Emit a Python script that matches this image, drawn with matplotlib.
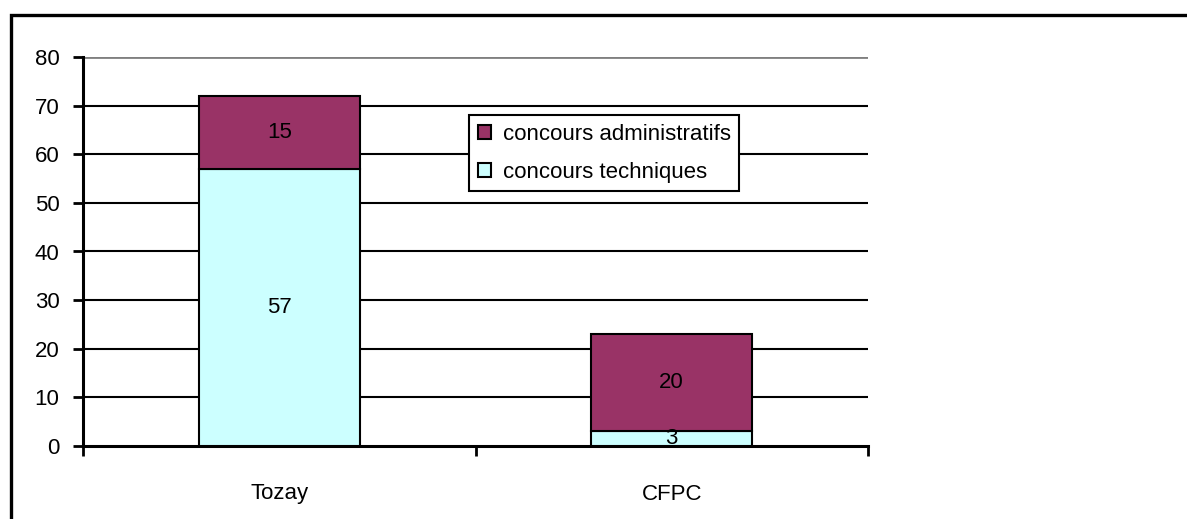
import matplotlib.pyplot as plt
from matplotlib.patches import Rectangle
import numpy as np

plt.rcParams['font.family'] = ['Liberation Sans', 'DejaVu Sans']

# data
sites = ['Tozay', 'CFPC']
techniques = [57, 3]
administratifs = [15, 20]

fig = plt.figure(figsize=(11.87, 5.19), dpi=100)

# outer frame (cut off at right and bottom like the original)
fig.add_artist(Rectangle((11 / 1187, -0.1), 1.2, (519 - 15) / 519 + 0.1,
                         transform=fig.transFigure, fill=False,
                         edgecolor='black', linewidth=2.4))

ax = fig.add_axes([83 / 1187, (519 - 446) / 519,
                   (868 - 83) / 1187, (446 - 57) / 519])

x = np.arange(len(sites))
w = 0.41
b1 = ax.bar(x, techniques, w, color='#CCFFFF', edgecolor='black',
            linewidth=1.5, label='concours techniques', zorder=3)
b2 = ax.bar(x, administratifs, w, bottom=techniques, color='#993366',
            edgecolor='black', linewidth=1.5,
            label='concours administratifs', zorder=3)

for i in range(len(sites)):
    ax.text(x[i], techniques[i] / 2, str(techniques[i]), ha='center',
            va='center', fontsize=16, zorder=4)
    ax.text(x[i], techniques[i] + administratifs[i] / 2,
            str(administratifs[i]), ha='center', va='center',
            fontsize=16, zorder=4)

ax.set_xlim(-0.5, 1.5)
ax.set_ylim(0, 80)
ax.set_yticks(range(0, 81, 10))
for yv in range(10, 80, 10):
    ax.axhline(yv, color='black', linewidth=1.5, zorder=1)
ax.axhline(80, color='#808080', linewidth=2, zorder=1)

# category ticks sit between categories
ax.set_xticks([-0.5, 0.5, 1.5])
ax.set_xticklabels([])
ax.set_xticks(x, minor=True)
ax.set_xticklabels(sites, minor=True, fontsize=16)
ax.tick_params(axis='x', which='minor', length=0, pad=27)
ax.tick_params(axis='x', which='major', direction='out', length=7,
               width=2)
ax.tick_params(axis='y', direction='out', length=7, width=2,
               labelsize=16, pad=10)

for s in ['top', 'right']:
    ax.spines[s].set_visible(False)
ax.spines['left'].set_linewidth(2.2)
ax.spines['bottom'].set_linewidth(2.2)

leg = ax.legend(handles=[b2, b1], loc='upper left',
                bbox_to_anchor=(0.492, 0.851), borderaxespad=0,
                fontsize=16, fancybox=False, framealpha=1,
                edgecolor='black', handlelength=0.6, handleheight=0.6,
                handletextpad=0.5, borderpad=0.4, labelspacing=0.75)
leg.get_frame().set_linewidth(1.5)
leg.set_zorder(5)

fig.savefig('out.png', dpi=100)
